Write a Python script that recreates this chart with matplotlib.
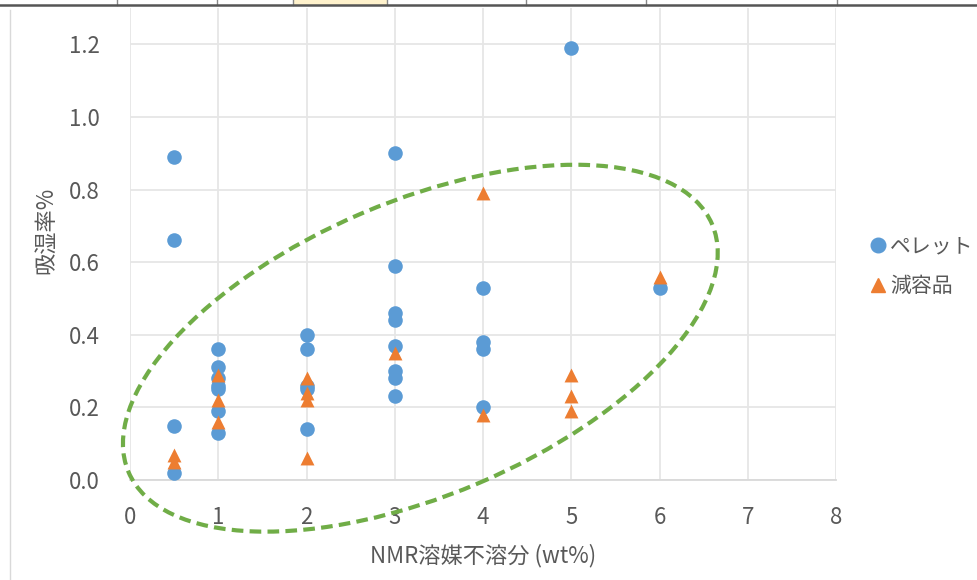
import matplotlib.pyplot as plt
from matplotlib.patches import Ellipse, Rectangle
from matplotlib.lines import Line2D
import matplotlib.transforms as mtransforms

plt.rcParams['font.family'] = ['Noto Sans CJK JP', 'DejaVu Sans']

# ペレット (pellets)
pellet_x = [0.5, 0.5, 0.5, 0.5,
            1, 1, 1, 1, 1, 1, 1,
            2, 2, 2, 2, 2,
            3, 3, 3, 3, 3, 3, 3, 3,
            4, 4, 4, 4,
            5, 6]
pellet_y = [0.89, 0.66, 0.15, 0.02,
            0.36, 0.31, 0.28, 0.26, 0.25, 0.19, 0.13,
            0.40, 0.36, 0.26, 0.25, 0.14,
            0.90, 0.59, 0.46, 0.44, 0.37, 0.30, 0.28, 0.23,
            0.53, 0.38, 0.36, 0.20,
            1.19, 0.53]

# 減容品 (volume-reduced product)
reduced_x = [0.5, 0.5, 1, 1, 1, 2, 2, 2, 2, 3, 4, 4, 5, 5, 5, 6]
reduced_y = [0.07, 0.05, 0.29, 0.22, 0.16, 0.28, 0.24, 0.22, 0.06,
             0.35, 0.79, 0.18, 0.29, 0.23, 0.19, 0.56]

x_ticks = [0, 1, 2, 3, 4, 5, 6, 7, 8]
y_ticks = [0.0, 0.2, 0.4, 0.6, 0.8, 1.0, 1.2]

blue = '#5B9BD5'
orange = '#ED7D31'
green = '#70AD47'
grid_c = '#E6E6E6'
text_c = '#595959'

fig = plt.figure(figsize=(9.77, 5.8), dpi=100)
W, H = 977, 580
ax = fig.add_axes([130 / W, 100 / H, 706 / W, 472 / H])

ax.scatter(pellet_x, pellet_y, s=110, marker='o', color=blue, zorder=3,
           linewidths=0, label='ペレット')
ax.scatter(reduced_x, reduced_y, s=100, marker='^', color=orange, zorder=4,
           linewidths=0, label='減容品')

ax.set_xlim(0, 8)
ax.set_ylim(0, 1.3)
ax.set_xticks(x_ticks)
ax.set_yticks(y_ticks)
ax.set_yticklabels([f'{v:.1f}' for v in y_ticks])
ax.tick_params(length=0, labelsize=16, labelcolor=text_c)
ax.tick_params(axis='x', pad=19)
ax.tick_params(axis='y', pad=22)
ax.grid(True, color=grid_c, linewidth=1.3)
ax.set_axisbelow(True)
for side in ['top', 'right', 'left']:
    ax.spines[side].set_visible(False)
ax.spines['bottom'].set_color('#D9D9D9')
ax.spines['bottom'].set_linewidth(1.3)

ax.set_xlabel('NMR溶媒不溶分 (wt%)', fontsize=16, color=text_c, labelpad=10)
ax.set_ylabel('吸湿率%', fontsize=16, color=text_c)
ax.yaxis.set_label_coords(-0.103, (480 - 230) / 472)

# dashed ellipse drawn over the chart
trans = fig.dpi_scale_trans + mtransforms.ScaledTranslation(3.29, 0.363, ax.transData)
ell = Ellipse((0, 0), 6.34, 2.94, angle=23, transform=trans, fill=False,
              edgecolor=green, linewidth=3.0, linestyle=(0, (2.8, 1.5)),
              clip_on=False, zorder=5)
ax.add_patch(ell)

handles = [Line2D([], [], marker='o', color=blue, linestyle='', markersize=10.5),
           Line2D([], [], marker='^', color=orange, linestyle='', markersize=10.5)]
leg = fig.legend(handles, ['ペレット', '減容品'], loc='center left',
                 bbox_to_anchor=(860 / W, (580 - 266) / H), frameon=False,
                 fontsize=15, handletextpad=0.15, labelspacing=0.85,
                 handlelength=0.9, borderaxespad=0)
for t in leg.get_texts():
    t.set_color(text_c)

# spreadsheet chrome around the chart
fig.add_artist(Line2D([10 / W, 10 / W], [0, 1 - 10 / H], transform=fig.transFigure,
                      color='#D9D9D9', linewidth=1))
fig.add_artist(Rectangle((293 / W, 1 - 5 / H), 94 / W, 5 / H, transform=fig.transFigure,
                         facecolor='#FFF2CC', edgecolor='none'))
for xp in [117, 217, 293, 387, 526, 646, 837]:
    fig.add_artist(Line2D([xp / W, xp / W], [1 - 5 / H, 1], transform=fig.transFigure,
                          color='#888888', linewidth=1))
fig.add_artist(Line2D([0, 1], [1 - 5 / H, 1 - 5 / H], transform=fig.transFigure,
                      color='#555555', linewidth=1.8))

fig.savefig('out.png', dpi=100)
